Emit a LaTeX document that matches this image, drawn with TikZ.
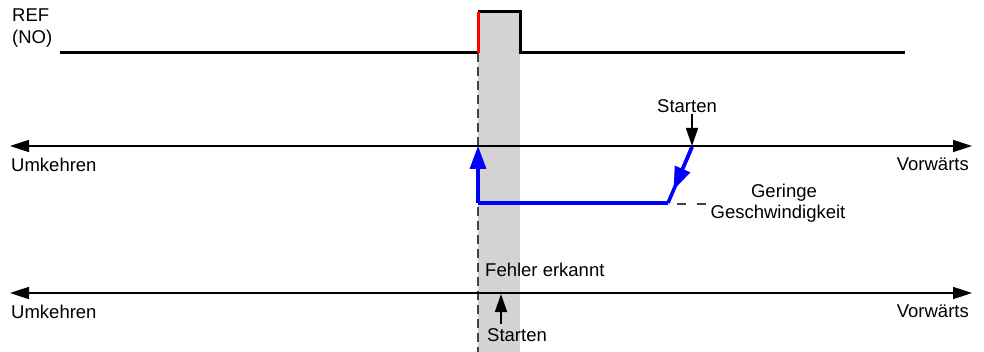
\documentclass[tikz,border=0pt]{standalone}
\usepackage{fontspec}
\setmainfont{Liberation Sans}
\usetikzlibrary{arrows.meta,calc}
\definecolor{bandgray}{RGB}{211,211,211}
\definecolor{sigblue}{RGB}{0,0,255}
\begin{document}
\begin{tikzpicture}[x=1pt,y=-1pt,
  lbl/.style={font=\fontsize{18.5}{22}\selectfont,inner sep=0pt},
  axis/.style={line width=1.6pt,{Triangle[length=19pt,width=12pt]}-{Triangle[length=19pt,width=12pt]}},
  sig/.style={line width=3pt},
  blue path/.style={line width=3.5pt,sigblue},
  bigtip/.style={-{Triangle[length=23pt,width=16pt]}},
  smalltip/.style={line width=1.6pt,-{Triangle[length=18pt,width=12pt]}},
  guide/.style={line width=1.8pt,dash pattern=on 9pt off 5pt,black!75}]
\useasboundingbox (0,0) rectangle (984,352);
% shaded band
\fill[bandgray] (478,12) rectangle (520,352);
% dashed guide
\coordinate (g1) at (478,53);
\coordinate (g2) at (478,352);
\draw[guide] (g1) -- (g2);
% REF signal
\coordinate (s0) at (60,53);
\coordinate (s1) at (478,53);
\coordinate (s2) at (478,12);
\coordinate (s3) at (520,12);
\coordinate (s4) at (520,53);
\coordinate (s5) at (905,53);
\draw[sig] (s0) -- (s1);
\draw[sig] (s2) -- (s3) -- (s4) -- (s5);
\draw[sig,red] (s1) -- (s2);
\node[lbl,anchor=north west,align=left] (ref) at (12,9) {REF\\(NO)};
% axis 1
\coordinate (a1l) at (10,146);
\coordinate (a1r) at (972,146);
\draw[axis] (a1l) -- (a1r);
\node[lbl,anchor=north west] (um1) at (11,158) {Umkehren};
\node[lbl,anchor=north east] (vw1) at (969,158) {Vorwärts};
% axis 2
\coordinate (a2l) at (10,293);
\coordinate (a2r) at (972,293);
\draw[axis] (a2l) -- (a2r);
\node[lbl,anchor=north west] (um2) at (11,305) {Umkehren};
\node[lbl,anchor=north east] (vw2) at (969,305) {Vorwärts};
% blue path
\coordinate (b0) at (478,203);
\coordinate (b1) at (478,146);
\coordinate (b2) at (668,203);
\coordinate (b3) at (692,147);
\draw[blue path,bigtip] (b0) -- (b1);
\draw[blue path] (b0) -- (b2);
\draw[blue path] (b3) -- (b2);
\draw[blue path,bigtip] (b3) -- ($(b3)!0.77!(b2)$);
% Starten top
\node[lbl,anchor=south] (st1) at (687,113) {Starten};
\coordinate (st1t) at (692,146);
\draw[smalltip] (692,114) -- (st1t);
% low speed label
\coordinate (d1) at (677,204);
\coordinate (d2) at (707,204);
\draw[line width=1.8pt,black!75,dash pattern=on 9pt off 11pt] (d1) -- (d2);
\node[lbl] (ger) at (784,193) {Geringe};
\node[lbl] (gesch) at (778,214) {Geschwindigkeit};
% bottom labels
\node[lbl,anchor=west] (fe) at (485,270) {Fehler erkannt};
\node[lbl,anchor=west] (st2) at (487,335) {Starten};
\coordinate (st2t) at (501,294);
\draw[smalltip] (501,324) -- (st2t);
\end{tikzpicture}
\end{document}
